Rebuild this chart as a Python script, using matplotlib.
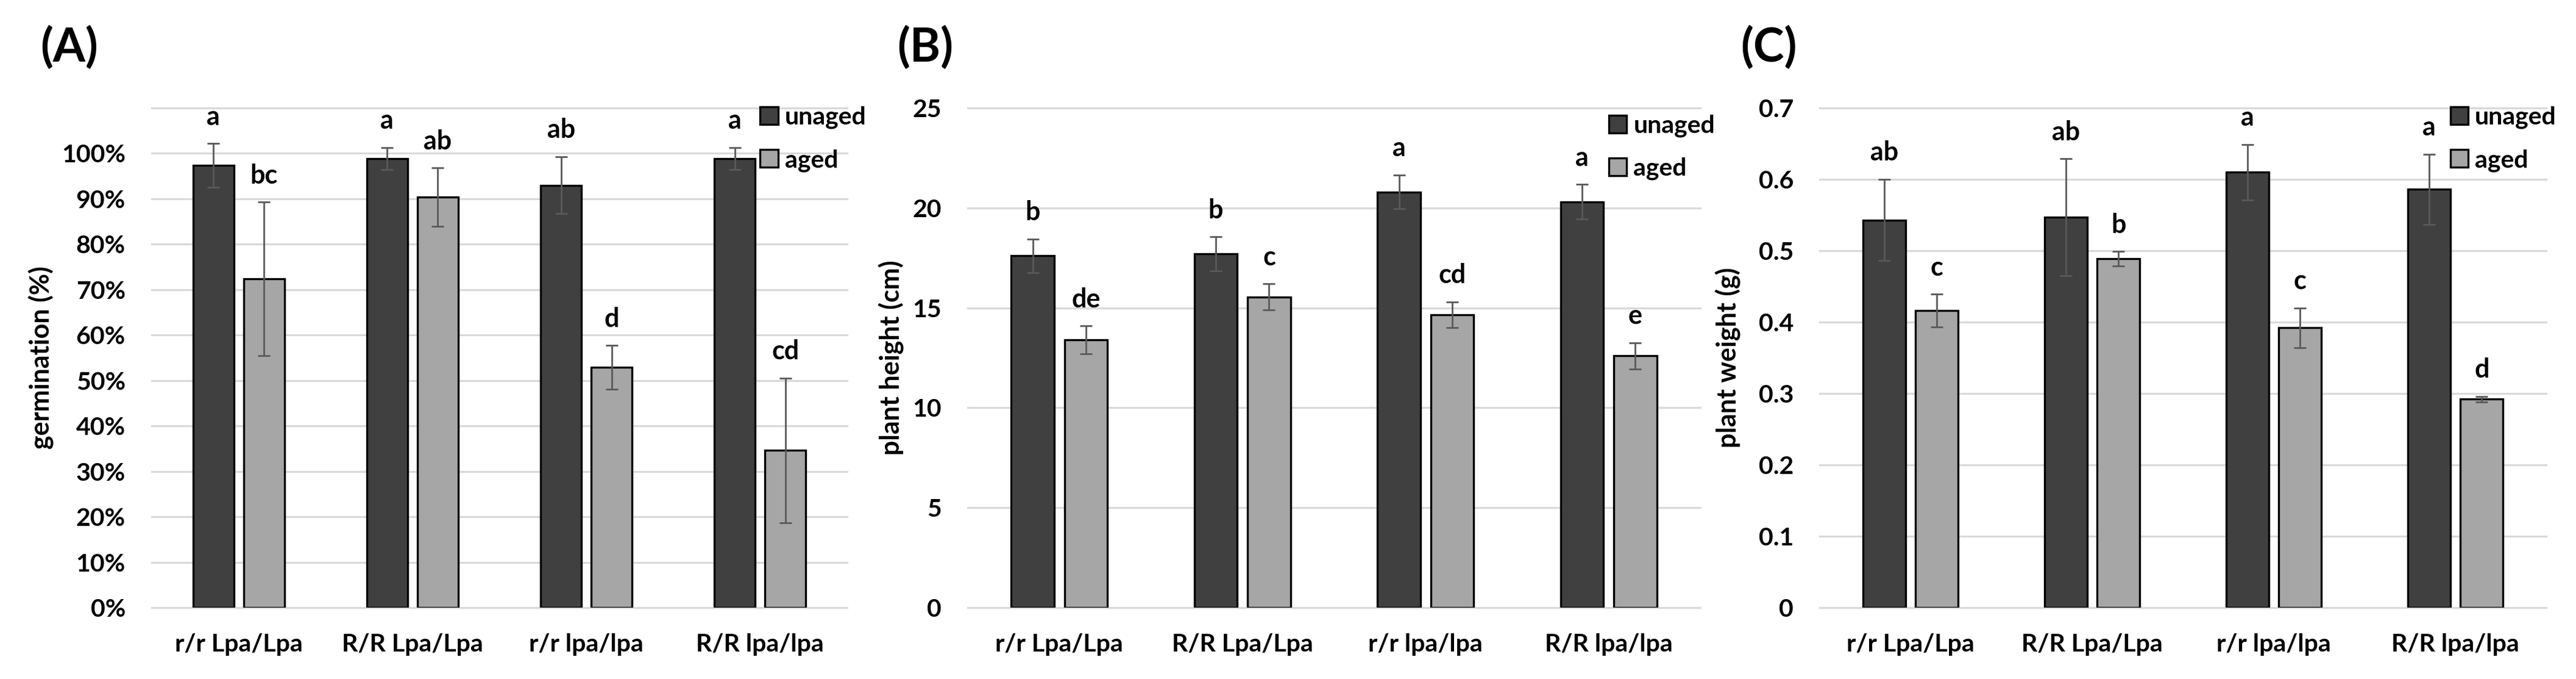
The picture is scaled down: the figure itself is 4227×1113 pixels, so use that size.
import matplotlib
matplotlib.use("Agg")
import matplotlib.pyplot as plt
from matplotlib.ticker import FuncFormatter
import numpy as np

plt.rcParams["font.family"] = ["Lato", "DejaVu Sans"]
plt.rcParams["font.weight"] = "bold"

genotypes = ["r/r Lpa/Lpa", "R/R Lpa/Lpa", "r/r lpa/lpa", "R/R lpa/lpa"]
series_names = ["unaged", "aged"]

# (A) germination, fraction
germ_unaged = [0.974, 0.989, 0.930, 0.989]
germ_unaged_err = [0.048, 0.024, 0.063, 0.024]
germ_aged = [0.724, 0.904, 0.529, 0.346]
germ_aged_err = [0.169, 0.064, 0.048, 0.159]
germ_unaged_letters = ["a", "a", "ab", "a"]
germ_aged_letters = ["bc", "ab", "d", "cd"]

# (B) plant height, cm
height_unaged = [17.6, 17.7, 20.8, 20.3]
height_unaged_err = [0.85, 0.85, 0.85, 0.87]
height_aged = [13.4, 15.55, 14.65, 12.6]
height_aged_err = [0.70, 0.65, 0.65, 0.65]
height_unaged_letters = ["b", "b", "a", "a"]
height_aged_letters = ["de", "c", "cd", "e"]

# (C) plant weight, g
weight_unaged = [0.543, 0.547, 0.610, 0.586]
weight_unaged_err = [0.057, 0.082, 0.039, 0.049]
weight_aged = [0.416, 0.489, 0.392, 0.292]
weight_aged_err = [0.023, 0.010, 0.028, 0.004]
weight_unaged_letters = ["ab", "ab", "a", "a"]
weight_aged_letters = ["c", "b", "c", "d"]

DARK = "#404040"
LIGHT = "#a6a6a6"
GRID = "#d9d9d9"
ERR = "#595959"

W, H = 4227, 1113


def draw_panel(ax, unaged, unaged_err, aged, aged_err, let_u, let_a,
               ymax, step, fmt, ylabel, ylabel_x, legend_anchor):
    x = np.arange(len(genotypes))
    off, bw = 0.1455, 0.235
    groups = [(x - off, unaged, unaged_err, let_u, DARK),
              (x + off, aged, aged_err, let_a, LIGHT)]
    handles = []
    for pos, vals, err, letters, color in groups:
        b = ax.bar(pos, vals, bw, color=color, edgecolor="black",
                   linewidth=2.4, zorder=3)
        handles.append(b)
        ax.errorbar(pos, vals, yerr=err, fmt="none", ecolor=ERR,
                    elinewidth=2.0, capsize=7.5, capthick=2.0, zorder=4)
        for p, v, e, t in zip(pos, vals, err, letters):
            ax.annotate(t, xy=(p, v + e), xytext=(0, 22),
                        textcoords="offset points", ha="center",
                        va="baseline", fontsize=31, fontweight="bold")

    ax.set_xlim(-0.5, len(genotypes) - 0.5)
    ax.set_ylim(0, ymax)
    ax.set_yticks(np.arange(0, ymax + step / 2, step))
    ax.yaxis.set_major_formatter(FuncFormatter(fmt))
    ax.set_xticks(x)
    ax.set_xticklabels(genotypes)
    ax.tick_params(axis="both", length=0, labelsize=29.5)
    ax.tick_params(axis="y", pad=31)
    ax.tick_params(axis="x", pad=30)
    ax.yaxis.grid(True, color=GRID, linewidth=2.2)
    for gl in ax.get_ygridlines():
        gl.set_clip_on(False)
    ax.set_axisbelow(True)
    for s in ax.spines.values():
        s.set_visible(False)

    ax.set_ylabel(ylabel, fontsize=31, fontweight="bold")
    ax.yaxis.label.set_verticalalignment("center")
    ax.yaxis.set_label_coords(ylabel_x, 0.5)

    ax.legend(handles, series_names, loc="upper left",
              bbox_to_anchor=legend_anchor, frameon=False,
              handlelength=0.72, handleheight=0.72, handletextpad=0.27,
              labelspacing=0.8, borderpad=0, borderaxespad=0,
              fontsize=29.5)


fig = plt.figure(figsize=(W / 100, H / 100), dpi=100)
bottom = (H - 996) / H
height = 819 / H

ax_a = fig.add_axes([249 / W, bottom, 1141 / W, height])
ax_b = fig.add_axes([1588 / W, bottom, 1202 / W, height])
ax_c = fig.add_axes([2986 / W, bottom, 1192 / W, height])

draw_panel(ax_a, germ_unaged, germ_unaged_err, germ_aged, germ_aged_err,
           germ_unaged_letters, germ_aged_letters, 1.1, 0.1,
           lambda v, _: "" if v > 1.05 else f"{v * 100:.0f}%",
           "germination (%)", -0.1586, (0.875, 1.004))
draw_panel(ax_b, height_unaged, height_unaged_err, height_aged, height_aged_err,
           height_unaged_letters, height_aged_letters, 25, 5,
           lambda v, _: f"{v:g}",
           "plant height (cm)", -0.104, (0.875, 0.987))
draw_panel(ax_c, weight_unaged, weight_unaged_err, weight_aged, weight_aged_err,
           weight_unaged_letters, weight_aged_letters, 0.7, 0.1,
           lambda v, _: f"{round(v, 1):g}",
           "plant weight (g)", -0.126, (0.868, 1.004))

for label, xpx in [("(A)", 66), ("(B)", 1472), ("(C)", 2856)]:
    fig.text(xpx / W, 1 - 78 / H, label, ha="left", va="center",
             fontsize=55, fontweight="bold")

fig.savefig("out.png", dpi=100, facecolor="white")
